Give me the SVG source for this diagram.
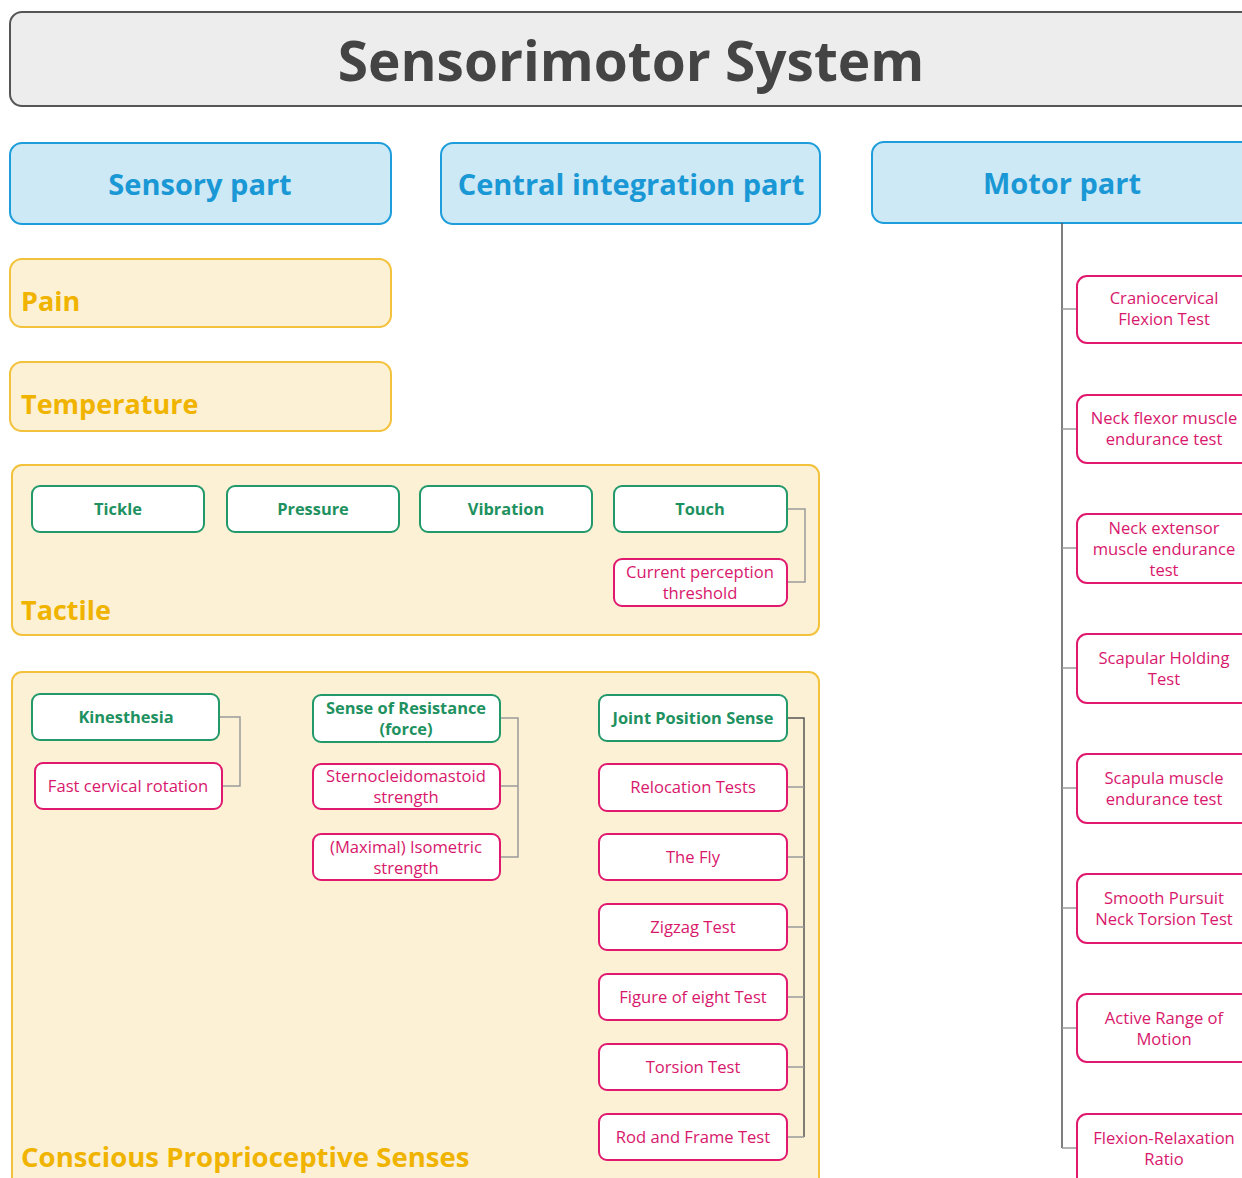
<svg xmlns="http://www.w3.org/2000/svg" width="1242" height="1178" viewBox="0 0 1242 1178">
<style>
text{font-family:"Open Sans","Noto Sans","Liberation Sans",sans-serif;text-anchor:middle}
.title{font-size:55px;font-weight:700;fill:#444}
.hdr rect{fill:#cde9f6;stroke:#1d9ddb;stroke-width:2}
.hdr text{font-size:29px;font-weight:700;fill:#1a98d5}
.grp rect{fill:#fcf1d4;stroke:#f3c23c;stroke-width:2}
.grp text{font-size:27px;font-weight:700;fill:#f0b400;text-anchor:start}
.grp text.big{font-size:27.6px}
.g rect{fill:#fff;stroke:#22996a;stroke-width:2}
.g text{font-size:16.4px;font-weight:700;fill:#1e9160}
.p rect{fill:#fff;stroke:#e0196f;stroke-width:2}
.p text{font-size:16.6px;fill:#d8186c}
.conn path{fill:none;stroke:#9a9a9a;stroke-width:1.5}
.conn path.dk{stroke:#555}
</style>
<g id="title"><rect x="10" y="12" width="1250" height="94" rx="12" fill="#ededed" stroke="#555" stroke-width="2"/><text class="title" x="631" y="81">Sensorimotor System</text></g>
<g id="sensory" class="hdr"><rect x="10" y="143" width="381" height="81" rx="12"/><text x="200" y="195">Sensory part</text></g>
<g id="central" class="hdr"><rect x="441" y="143" width="379" height="81" rx="12"/><text x="631" y="195">Central integration part</text></g>
<g id="motor" class="hdr"><rect x="872" y="142" width="390" height="81" rx="12"/><text x="1062" y="194">Motor part</text></g>
<g id="pain" class="grp"><rect x="10" y="259" width="381" height="68" rx="12"/><text x="21" y="311">Pain</text></g>
<g id="temperature" class="grp"><rect x="10" y="362" width="381" height="69" rx="12"/><text x="21" y="414">Temperature</text></g>
<g id="tactile" class="grp"><rect x="12" y="465" width="807" height="170" rx="10"/><text x="21" y="620">Tactile</text></g>
<g id="proprio" class="grp"><rect x="12" y="672" width="807" height="520" rx="10"/><text class="big" x="21" y="1167">Conscious Proprioceptive Senses</text></g>
<g id="connectors" class="conn">
<path d="M787 509H805V582H787"/>
<path d="M219 717H240V786H222"/>
<path d="M500 718H518V857H500M500 786H518"/>
<path class="dk" d="M787 718H804V1137"/>
<path d="M804 787H787M804 857H787M804 927H787M804 997H787M804 1067H787M804 1137H787"/>
<path class="dk" d="M1062 223V1148"/>
<path d="M1062 309H1077M1062 429H1077M1062 548H1077M1062 668H1077M1062 788H1077M1062 908H1077M1062 1028H1077M1062 1148H1077"/>
</g>
<g id="tickle" class="g"><rect x="32" y="486" width="172" height="46" rx="8"/><text x="118" y="515">Tickle</text></g>
<g id="pressure" class="g"><rect x="227" y="486" width="172" height="46" rx="8"/><text x="313" y="515">Pressure</text></g>
<g id="vibration" class="g"><rect x="420" y="486" width="172" height="46" rx="8"/><text x="506" y="515">Vibration</text></g>
<g id="touch" class="g"><rect x="614" y="486" width="173" height="46" rx="8"/><text x="700" y="515">Touch</text></g>
<g id="cpt" class="p"><rect x="614" y="559" width="173" height="47" rx="8"/><text x="700" y="578">Current perception</text><text x="700" y="599">threshold</text></g>
<g id="kinesthesia" class="g"><rect x="32" y="694" width="187" height="46" rx="8"/><text x="126" y="723">Kinesthesia</text></g>
<g id="fcr" class="p"><rect x="35" y="763" width="187" height="46" rx="8"/><text x="128" y="792">Fast cervical rotation</text></g>
<g id="resistance" class="g"><rect x="313" y="695" width="187" height="47" rx="8"/><text x="406" y="714">Sense of Resistance</text><text x="406" y="735">(force)</text></g>
<g id="scm" class="p"><rect x="313" y="764" width="187" height="45" rx="8"/><text x="406" y="782">Sternocleidomastoid</text><text x="406" y="803">strength</text></g>
<g id="iso" class="p"><rect x="313" y="834" width="187" height="46" rx="8"/><text x="406" y="853">(Maximal) Isometric</text><text x="406" y="874">strength</text></g>
<g id="jps" class="g"><rect x="599" y="695" width="188" height="46" rx="8"/><text x="693" y="724">Joint Position Sense</text></g>
<g id="reloc" class="p"><rect x="599" y="764" width="188" height="47" rx="8"/><text x="693" y="793">Relocation Tests</text></g>
<g id="fly" class="p"><rect x="599" y="834" width="188" height="46" rx="8"/><text x="693" y="863">The Fly</text></g>
<g id="zigzag" class="p"><rect x="599" y="904" width="188" height="46" rx="8"/><text x="693" y="933">Zigzag Test</text></g>
<g id="fig8" class="p"><rect x="599" y="974" width="188" height="46" rx="8"/><text x="693" y="1003">Figure of eight Test</text></g>
<g id="torsion" class="p"><rect x="599" y="1044" width="188" height="46" rx="8"/><text x="693" y="1073">Torsion Test</text></g>
<g id="rod" class="p"><rect x="599" y="1114" width="188" height="46" rx="8"/><text x="693" y="1143">Rod and Frame Test</text></g>
<g id="ccft" class="p"><rect x="1077" y="276" width="180" height="67" rx="10"/><text x="1164" y="304">Craniocervical</text><text x="1164" y="325">Flexion Test</text></g>
<g id="nfmet" class="p"><rect x="1077" y="395" width="180" height="68" rx="10"/><text x="1164" y="424">Neck flexor muscle</text><text x="1164" y="445">endurance test</text></g>
<g id="nemet" class="p"><rect x="1077" y="514" width="180" height="69" rx="10"/><text x="1164" y="534">Neck extensor</text><text x="1164" y="555">muscle endurance</text><text x="1164" y="576">test</text></g>
<g id="sht" class="p"><rect x="1077" y="634" width="180" height="69" rx="10"/><text x="1164" y="664">Scapular Holding</text><text x="1164" y="685">Test</text></g>
<g id="smet" class="p"><rect x="1077" y="754" width="180" height="69" rx="10"/><text x="1164" y="784">Scapula muscle</text><text x="1164" y="805">endurance test</text></g>
<g id="spnt" class="p"><rect x="1077" y="874" width="180" height="69" rx="10"/><text x="1164" y="904">Smooth Pursuit</text><text x="1164" y="925">Neck Torsion Test</text></g>
<g id="arom" class="p"><rect x="1077" y="994" width="180" height="68" rx="10"/><text x="1164" y="1024">Active Range of</text><text x="1164" y="1045">Motion</text></g>
<g id="frr" class="p"><rect x="1077" y="1114" width="180" height="80" rx="10"/><text x="1164" y="1144">Flexion-Relaxation</text><text x="1164" y="1165">Ratio</text></g>
</svg>
